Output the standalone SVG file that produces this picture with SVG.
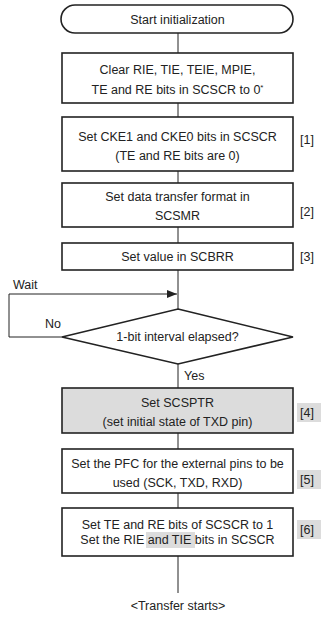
<svg xmlns="http://www.w3.org/2000/svg" width="322" height="620" viewBox="0 0 322 620">
<style>
text{font-family:"Liberation Sans",Arial,sans-serif;font-size:12.5px;fill:#222}
.c{text-anchor:middle}
.box{fill:#fff;stroke:#222;stroke-width:1.6}
.gray{fill:#dcdcdc;stroke:#222;stroke-width:1.6}
.ln{fill:none;stroke:#222;stroke-width:1}
.hl{fill:#dcdcdc}
</style>
<defs>
<marker id="ah" markerWidth="10" markerHeight="8" refX="10" refY="4" orient="auto" markerUnits="userSpaceOnUse">
<path d="M0,0 L10,4 L0,8 z" fill="#222"/>
</marker>
</defs>
<rect width="322" height="620" fill="#fff"/>
<g id="connectors">
<path class="ln" d="M178,33V53M178,103V117M178,171V183M178,227V243M178,270V309M178,364V388M178,433V449M178,493V508M178,556V593"/>
<path class="ln" d="M62,337H9V294H177" marker-end="url(#ah)"/>
<text x="13" y="289">Wait</text>
<text x="45" y="328">No</text>
<text x="184" y="380">Yes</text>
</g>
<g id="start">
<rect class="box" x="61" y="5" width="232" height="28" rx="14"/>
<text class="c" x="177.5" y="24">Start initialization</text>
</g>
<g id="clear">
<rect class="box" x="62" y="53" width="231" height="50"/>
<text class="c" x="177.5" y="74">Clear RIE, TIE, TEIE, MPIE,</text>
<text class="c" x="177.5" y="94">TE and RE bits in SCSCR to 0<tspan font-size="8" dy="-4">*</tspan></text>
</g>
<g id="step1">
<rect class="box" x="62" y="117" width="231" height="54"/>
<text class="c" x="177.5" y="141">Set CKE1 and CKE0 bits in SCSCR</text>
<text class="c" x="177.5" y="160">(TE and RE bits are 0)</text>
<text x="300" y="144">[1]</text>
</g>
<g id="step2">
<rect class="box" x="62" y="183" width="231" height="44"/>
<text class="c" x="177.5" y="201">Set data transfer format in</text>
<text class="c" x="177.5" y="220">SCSMR</text>
<text x="300" y="216">[2]</text>
</g>
<g id="step3">
<rect class="box" x="62" y="243" width="231" height="27"/>
<text class="c" x="177.5" y="261">Set value in SCBRR</text>
<text x="300" y="261">[3]</text>
</g>
<g id="decision">
<path class="box" d="M178,309L293,337L178,364L62,337z"/>
<text class="c" x="177.5" y="341">1-bit interval elapsed?</text>
</g>
<g id="step4">
<rect class="gray" x="62" y="388" width="231" height="45"/>
<text class="c" x="177.5" y="407">Set SCSPTR</text>
<text class="c" x="177.5" y="426">(set initial state of TXD pin)</text>
<rect class="hl" x="297" y="403" width="24" height="19"/>
<text x="300" y="417">[4]</text>
</g>
<g id="step5">
<rect class="box" x="62" y="449" width="231" height="44"/>
<text class="c" x="177.5" y="468">Set the PFC for the external pins to be</text>
<text class="c" x="177.5" y="487">used (SCK, TXD, RXD)</text>
<rect class="hl" x="297" y="470" width="24" height="19"/>
<text x="300" y="484">[5]</text>
</g>
<g id="step6">
<rect class="box" x="62" y="508" width="231" height="48"/>
<rect class="hl" x="146" y="532" width="49" height="16"/>
<text class="c" x="177.5" y="529">Set TE and RE bits of SCSCR to 1</text>
<text class="c" x="177.5" y="544">Set the RIE and TIE bits in SCSCR</text>
<rect class="hl" x="297" y="520" width="24" height="19"/>
<text x="300" y="534">[6]</text>
</g>
<g id="end">
<text class="c" x="178" y="610">&lt;Transfer starts&gt;</text>
</g>
</svg>
